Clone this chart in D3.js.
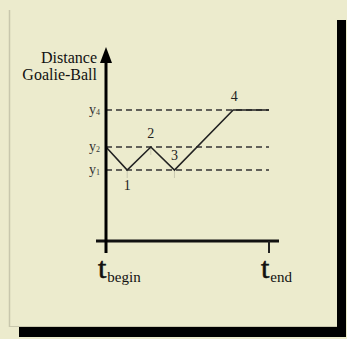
<!DOCTYPE html>
<html><head><meta charset="utf-8">
<script src="https://cdn.jsdelivr.net/npm/d3@7"></script>
<style>html,body{margin:0;padding:0;background:#ecebcd;}svg{display:block;}</style>
</head><body>
<script>
// Data
const timeTicks = [{name:"begin", t:0}, {name:"end", t:10}];
const levels = [{name:"1", v:71}, {name:"2", v:94}, {name:"4", v:131}];
const pathT = [0, 1.3, 2.75, 4.2, 7.8, 10];
const pathV = [94, 71, 94, 71, 131, 131];
const pointLabels = ["1", "2", "3", "4"];
const pointIdx = [1, 2, 3, 4];
const pointPos = ["below", "above", "above", "above"];

const W = 347, H = 339;
const svg = d3.select("body").append("svg").attr("width", W).attr("height", H);
const bg = "#ecebcd";
svg.append("rect").attr("width", W).attr("height", H).attr("fill", bg);
// shadow
svg.append("rect").attr("x", 19).attr("y", 20).attr("width", 327).attr("height", 317).attr("fill", "#000");
// panel
svg.append("rect").attr("x", 9).attr("y", 10).attr("width", 328).attr("height", 317).attr("fill", bg);
svg.append("line").attr("x1", 9.5).attr("x2", 9.5).attr("y1", 10).attr("y2", 327).attr("stroke", "#c8c7ad").attr("stroke-width", 1.5);
svg.append("line").attr("x1", 9).attr("x2", 337).attr("y1", 326.5).attr("y2", 326.5).attr("stroke", "#c8c7ad").attr("stroke-width", 1);

const x = d3.scaleLinear().domain([0, 10]).range([106, 269]);
const y = d3.scaleLinear().domain([0, 131]).range([241, 110]);

const serif = "'Liberation Serif','DejaVu Serif',serif";

// dashed level lines
svg.selectAll(".lvl").data(levels).enter().append("line")
  .attr("x1", x(0)).attr("x2", x(10))
  .attr("y1", d => y(d.v)).attr("y2", d => y(d.v))
  .attr("stroke", "#333").attr("stroke-width", 1.6).attr("stroke-dasharray", "6,4");

// level labels
const lt = svg.selectAll(".lt").data(levels).enter().append("text")
  .attr("x", x(0) - 6).attr("y", d => y(d.v) + 4)
  .attr("text-anchor", "end").attr("font-family", serif).attr("font-size", 14).attr("fill", "#333");
lt.append("tspan").text("y");
lt.append("tspan").attr("font-size", 8).attr("dy", 1).text(d => d.name);

// faint vertical guide ticks at points
svg.selectAll(".gd").data(pointIdx.slice(0,3)).enter().append("line")
  .attr("x1", i => x(pathT[i])).attr("x2", i => x(pathT[i]))
  .attr("y1", i => y(pathV[i])).attr("y2", i => y(pathV[i]) + 8)
  .attr("stroke", "#c9c8b0").attr("stroke-width", 1);

// data path
const line = d3.line().x((d, i) => x(pathT[i])).y((d, i) => y(pathV[i]));
svg.append("path").datum(pathV).attr("d", line)
  .attr("fill", "none").attr("stroke", "#222").attr("stroke-width", 1.6);

// point labels
svg.selectAll(".pl").data(pointLabels).enter().append("text")
  .attr("x", (d, j) => x(pathT[pointIdx[j]]) + (j === 3 ? 1 : 0))
  .attr("y", (d, j) => pointPos[j] === "below" ? y(pathV[pointIdx[j]]) + 20 : y(pathV[pointIdx[j]]) - (j === 2 ? 10 : 9))
  .attr("text-anchor", "middle").attr("font-family", serif).attr("font-size", 14).attr("fill", "#222")
  .text(d => d);

// axes
svg.append("line").attr("x1", 96).attr("x2", 279).attr("y1", y(0)).attr("y2", y(0))
  .attr("stroke", "#111").attr("stroke-width", 3);
svg.append("line").attr("x1", x(0)).attr("x2", x(0)).attr("y1", 58).attr("y2", 253)
  .attr("stroke", "#000").attr("stroke-width", 3);
svg.append("path").attr("d", `M${x(0)},47 L${x(0)-6},63 L${x(0)+6},63 Z`).attr("fill", "#000");
// end tick
svg.append("line").attr("x1", x(10)).attr("x2", x(10)).attr("y1", y(0)).attr("y2", 253)
  .attr("stroke", "#222").attr("stroke-width", 2);

// time labels
const tl = svg.selectAll(".tl").data(timeTicks).enter().append("text")
  .attr("x", d => x(d.t) - 8).attr("y", 278)
  .attr("font-family", serif).attr("fill", "#111");
tl.append("tspan").attr("font-size", 30).attr("stroke", "#111").attr("stroke-width", 0.6).text("t");
tl.append("tspan").attr("font-size", 15).attr("dy", 4).attr("dx", 1).text(d => d.name);

// axis title
svg.append("text").attr("x", 97).attr("y", 63).attr("text-anchor", "end")
  .attr("font-family", serif).attr("font-size", 16).attr("fill", "#111").text("Distance");
svg.append("text").attr("x", 97).attr("y", 80).attr("text-anchor", "end")
  .attr("font-family", serif).attr("font-size", 16).attr("fill", "#111").text("Goalie-Ball");
</script>
</body></html>
